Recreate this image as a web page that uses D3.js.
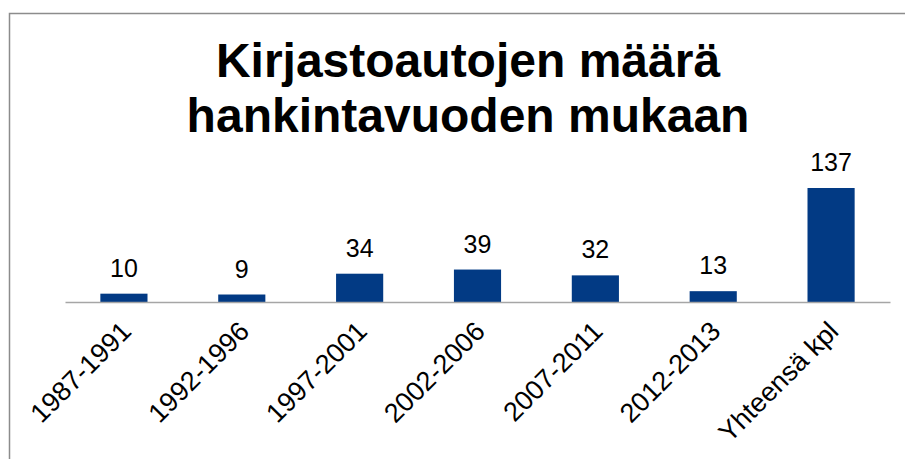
<!DOCTYPE html>
<html>
<head>
<meta charset="utf-8">
<script src="https://cdn.jsdelivr.net/npm/d3@7"></script>
<style>
  body { margin: 0; background: #fff; }
  svg { display: block; font-family: "Liberation Sans", Arial, sans-serif; }
</style>
</head>
<body>
<svg id="chart" width="905" height="459"></svg>
<script>
const categories = ['1987-1991', '1992-1996', '1997-2001', '2002-2006', '2007-2011', '2012-2013', 'Yhteensä kpl'];
const counts     = [10, 9, 34, 39, 32, 13, 137];
const titleLines = ['Kirjastoautojen määrä', 'hankintavuoden mukaan'];

const svg = d3.select('#chart');
const barColor = '#023a84';
const plot = { left: 65, right: 890, base: 302, top: 188 };

// frame of the chart area (right and bottom edges fall outside the picture)
svg.append('rect')
    .attr('x', 9.5).attr('y', 13.5)
    .attr('width', 1000).attr('height', 1000)
    .attr('fill', 'none')
    .attr('stroke', '#8c8c8c')
    .attr('stroke-width', 1.5);

svg.append('text')
    .attr('x', 468)
    .attr('y', 77)
    .attr('text-anchor', 'middle')
    .attr('font-size', 48)
    .attr('font-weight', 'bold')
    .selectAll('tspan')
    .data(titleLines)
    .enter().append('tspan')
    .attr('x', 468)
    .attr('dy', (d, i) => i === 0 ? 0 : 55)
    .text(d => d);

const x = d3.scaleBand()
    .domain(categories)
    .range([plot.left, plot.right])
    .paddingInner(0.6)
    .paddingOuter(0.3);

const y = d3.scaleLinear()
    .domain([0, 137])
    .range([plot.base, plot.top]);

svg.selectAll('.bar')
    .data(counts)
    .enter().append('rect')
    .attr('class', 'bar')
    .attr('x', (d, i) => x(categories[i]))
    .attr('y', d => y(d))
    .attr('width', x.bandwidth())
    .attr('height', d => y(0) - y(d))
    .attr('fill', barColor);

svg.selectAll('.val')
    .data(counts)
    .enter().append('text')
    .attr('class', 'val')
    .attr('x', (d, i) => x(categories[i]) + x.bandwidth() / 2)
    .attr('y', d => y(d) - 17)
    .attr('text-anchor', 'middle')
    .attr('font-size', 25)
    .attr('fill', '#000')
    .text(d => d);

const axis = svg.append('g')
    .attr('transform', `translate(0,${plot.base})`)
    .call(d3.axisBottom(x).tickSize(0).tickPadding(0).tickSizeOuter(0));
axis.select('.domain')
    .attr('stroke', '#a6a6a6')
    .attr('stroke-width', 1.5);
axis.selectAll('.tick text')
    .attr('font-size', 27)
    .attr('font-family', '"Liberation Sans", Arial, sans-serif')
    .attr('fill', '#000')
    .attr('text-anchor', 'end')
    .attr('dy', 0)
    .attr('y', 0)
    .attr('transform', 'translate(9,31) rotate(-45)');
</script>
</body>
</html>
